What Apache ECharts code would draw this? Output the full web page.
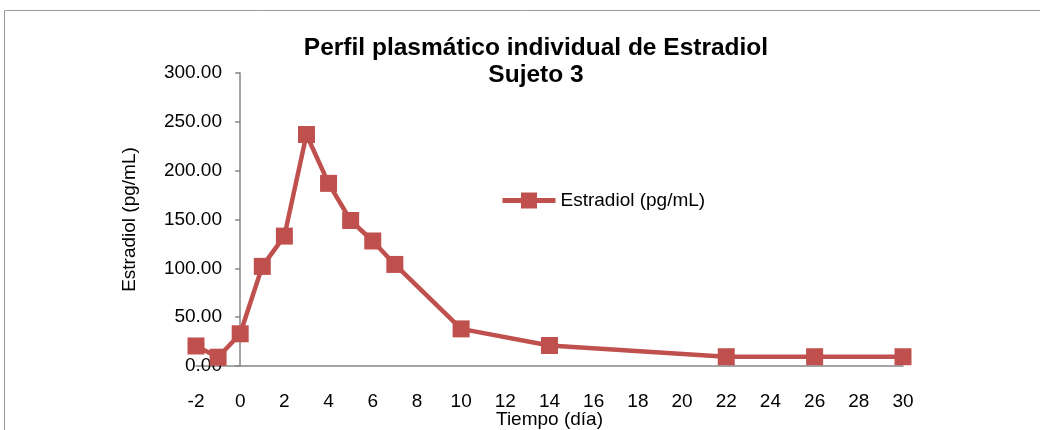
<!DOCTYPE html>
<html>
<head>
<meta charset="utf-8">
<script src="https://cdn.jsdelivr.net/npm/echarts@6/dist/echarts.min.js"></script>
<style>
html, body { margin: 0; padding: 0; background: #fff; }
#main { width: 1040px; height: 430px; }
</style>
</head>
<body>
<div id="main"></div>
<script>
// dias de muestreo y concentracion de estradiol
var dias = [-2, -1, 0, 1, 2, 3, 4, 5, 6, 7, 10, 14, 22, 26, 30];
var estradiol = [20.5, 9, 33, 102, 133, 237, 187, 149, 128, 104, 38, 21, 9.5, 9.5, 9.5];
var titulo = 'Perfil plasmático individual de Estradiol\nSujeto 3';
var serieNombre = 'Estradiol (pg/mL)';

var puntos = [];
for (var i = 0; i < dias.length; i++) {
    puntos.push([dias[i], estradiol[i]]);
}

var myChart = echarts.init(document.getElementById('main'));
var fuente = 'Liberation Sans, Arial, sans-serif';

var option = {
    animation: false,
    textStyle: { fontFamily: fuente },
    graphic: [{
        type: 'rect',
        shape: { x: 4.5, y: 10.5, width: 1100, height: 500 },
        style: { fill: 'none', stroke: '#9a9a9a', lineWidth: 1 },
        silent: true
    }],
    title: {
        text: titulo,
        left: 531,
        textAlign: 'center',
        top: 30,
        textStyle: { fontSize: 24.5, fontWeight: 'bold', color: '#000', lineHeight: 27, fontFamily: fuente }
    },
    legend: {
        left: 495,
        top: 186,
        itemWidth: 53,
        itemHeight: 20,
        textStyle: { fontSize: 19, color: '#000', fontFamily: fuente },
        lineStyle: { width: 5 },
        data: [serieNombre]
    },
    grid: { left: 196, right: 137, top: 73, height: 293, outerBoundsMode: 'none', containLabel: false },
    xAxis: {
        type: 'value',
        min: -2,
        max: 30,
        interval: 2,
        name: 'Tiempo (día)',
        nameLocation: 'middle',
        nameGap: 44,
        nameMoveOverlap: false,
        nameTextStyle: { fontSize: 19, color: '#000', fontFamily: fuente },
        axisLine: { show: true, lineStyle: { color: '#868686', width: 1.5 } },
        axisTick: { show: false },
        axisLabel: { fontSize: 19, color: '#000', margin: 26, fontFamily: fuente },
        splitLine: { show: false }
    },
    yAxis: {
        type: 'value',
        min: 0,
        max: 300,
        interval: 50,
        name: 'Estradiol (pg/mL)',
        nameLocation: 'middle',
        nameGap: 57,
        nameMoveOverlap: false,
        nameTextStyle: { fontSize: 19, color: '#000', fontFamily: fuente },
        axisLine: { show: true, onZero: true, lineStyle: { color: '#868686', width: 1.5 } },
        axisTick: { show: true, length: 5, lineStyle: { color: '#868686', width: 1.5 } },
        axisLabel: {
            fontSize: 19, color: '#000', margin: -26, fontFamily: fuente,
            formatter: function (v) { return v.toFixed(2); }
        },
        splitLine: { show: false }
    },
    series: [{
        name: serieNombre,
        type: 'line',
        data: puntos,
        symbol: 'rect',
        symbolSize: 17,
        lineStyle: { color: '#c0504d', width: 4.5 },
        itemStyle: { color: '#c0504d' },
        z: 1
    }]
};

myChart.setOption(option);
</script>
</body>
</html>
